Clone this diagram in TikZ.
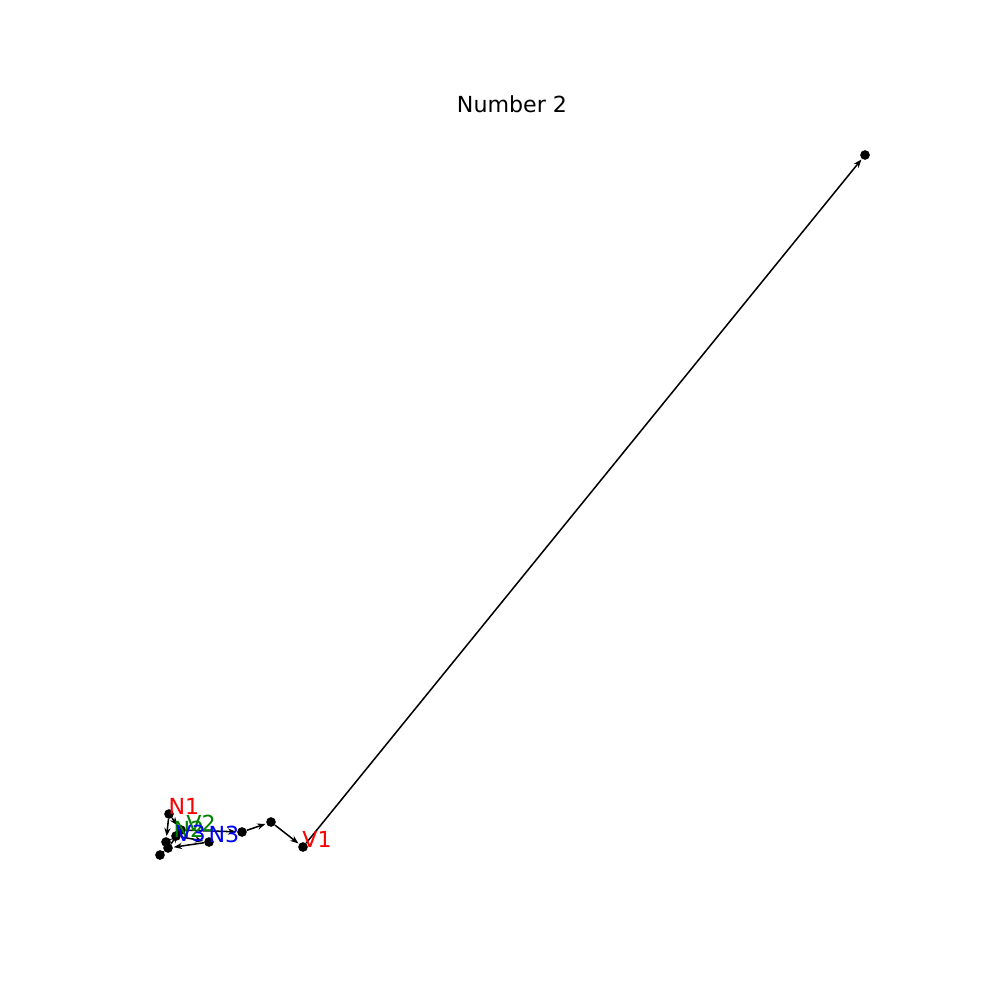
\documentclass[tikz,border=0pt]{standalone}
\usepackage{fontspec}
\setmainfont{DejaVu Sans}
\usepackage{xcolor}
\usetikzlibrary{positioning, arrows.meta}

\definecolor{labred}{RGB}{255,0,0}
\definecolor{labgreen}{RGB}{0,128,0}
\definecolor{labblue}{RGB}{0,0,255}

\begin{document}
\begin{tikzpicture}[x=0.0254cm, y=-0.0254cm, font=\fontsize{16}{19}\selectfont,
    dot/.style={circle, fill=black, inner sep=0pt, minimum size=7pt},
    edge/.style={line width=1.1pt, -{Stealth[length=6pt, width=4.5pt]}, shorten >=0.5pt},
    lab/.style={inner sep=0pt}]
    \useasboundingbox (0,0) rectangle (1000,1000);
    \node at (512,104) {Number 2};
    % nodes
    \node[dot] (n1) at (169,814) {};
    \node[dot] (a)  at (166,842) {};
    \node[dot] (b)  at (168,848) {};
    \node[dot] (c)  at (160,855) {};
    \node[dot] (d)  at (176,836) {};
    \node[dot] (e)  at (181,830) {};
    \node[dot] (f)  at (209,842) {};
    \node[dot] (g)  at (242,832) {};
    \node[dot] (h)  at (271,822) {};
    \node[dot] (v1) at (303,847) {};
    \node[dot] (k)  at (865,155) {};
    % edges
    \draw[edge] (n1) -- (a);
    \draw[edge] (n1) -- (e);
    \draw[edge] (a) -- (d);
    \draw[edge] (c) -- (b);
    \draw[edge] (b) -- (e);
    \draw[edge] (d) -- (f);
    \draw[edge] (f) -- (b);
    \draw[edge] (e) -- (g);
    \draw[edge] (g) -- (h);
    \draw[edge] (h) -- (v1);
    \draw[edge] (v1) -- (k);
    % labels
    \node[lab, text=labred]   (ln1) at (184,806) {N1};
    \node[lab, text=labgreen] (ln2) at (189,829) {N2};
    \node[lab, text=labgreen] (lv2) at (201,823) {V2};
    \node[lab, text=labblue]  (lv3) at (191,833) {V3};
    \node[lab, text=labblue]  (ln3) at (224,834) {N3};
    \node[lab, text=labred]   (lv1) at (317,839) {V1};
\end{tikzpicture}
\end{document}
